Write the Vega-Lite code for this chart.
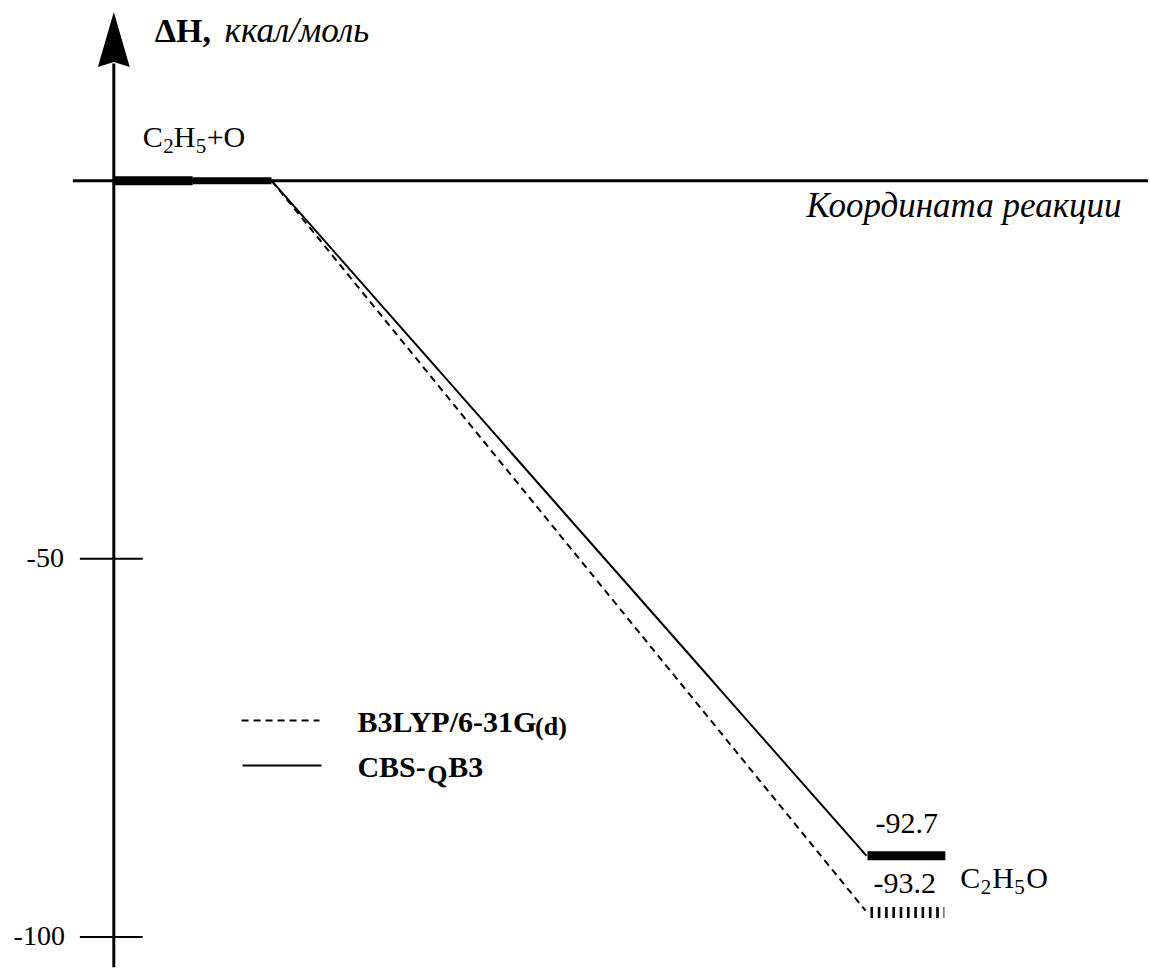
{
  "$schema": "https://vega.github.io/schema/vega-lite/v6.json",
  "width": 1150,
  "height": 969,
  "autosize": {"type": "fit", "contains": "padding"},
  "padding": 0,
  "background": "white",
  "config": {"view": {"stroke": null}, "text": {"font": "Liberation Serif, Times New Roman, serif", "color": "black"}},
  "encoding": {
    "x": {"field": "x", "type": "quantitative", "scale": {"domain": [0, 115], "nice": false, "zero": false}, "axis": null},
    "y": {"field": "y", "type": "quantitative", "scale": {"domain": [-103.96, 23.88], "nice": false, "zero": false}, "axis": null}
  },
  "layer": [
    {
      "data": {"values": [{"x": 11.4, "y": -104, "y2": 15.5}]},
      "mark": {"type": "rule", "color": "black", "strokeWidth": 3, "strokeCap": "butt"},
      "encoding": {"y2": {"field": "y2"}}
    },
    {
      "data": {"values": [{"x": 11.4, "y": 18.67}]},
      "mark": {"type": "point", "shape": "M0,-1L0.58,1L0,0.82L-0.58,1Z", "size": 3025, "filled": true, "color": "black", "opacity": 1, "strokeWidth": 0}
    },
    {
      "data": {"values": [{"x": 7.3, "x2": 115, "y": 0}]},
      "mark": {"type": "rule", "color": "black", "strokeWidth": 3, "strokeCap": "butt"},
      "encoding": {"x2": {"field": "x2"}}
    },
    {
      "data": {"values": [{"x": 8.0, "x2": 14.3, "y": -50}, {"x": 8.0, "x2": 14.3, "y": -100}]},
      "mark": {"type": "rule", "color": "black", "strokeWidth": 2, "strokeCap": "butt"},
      "encoding": {"x2": {"field": "x2"}}
    },
    {
      "data": {"values": [{"x": 6.4, "y": -50, "label": "-50"}, {"x": 6.5, "y": -100, "label": "-100"}]},
      "mark": {"type": "text", "font": "Liberation Serif, Times New Roman, serif", "align": "right", "baseline": "middle", "fontSize": 28},
      "encoding": {"text": {"field": "label"}}
    },
    {
      "data": {"values": [{"x": 11.5, "x2": 19.3, "y": 0}, {"x": 86.9, "x2": 94.7, "y": -89.25}]},
      "mark": {"type": "rule", "color": "black", "strokeWidth": 9, "strokeCap": "butt"},
      "encoding": {"x2": {"field": "x2"}}
    },
    {
      "data": {"values": [{"x": 19.3, "x2": 27.2, "y": 0}]},
      "mark": {"type": "rule", "color": "black", "strokeWidth": 7, "strokeCap": "butt"},
      "encoding": {"x2": {"field": "x2"}}
    },
    {
      "data": {"values": [{"x": 87.2, "x2": 94.6, "y": -96.77}]},
      "mark": {"type": "rule", "color": "black", "strokeWidth": 11, "strokeCap": "butt", "strokeDash": [2.6, 4.7]},
      "encoding": {"x2": {"field": "x2"}}
    },
    {
      "data": {"values": [
        {"method": "CBS-QB3", "x": 27.2, "y": 0},
        {"method": "CBS-QB3", "x": 86.8, "y": -89.25},
        {"method": "B3LYP/6-31G(d)", "x": 27.2, "y": 0},
        {"method": "B3LYP/6-31G(d)", "x": 86.7, "y": -96.5}
      ]},
      "mark": {"type": "line", "color": "black", "strokeWidth": 2},
      "encoding": {
        "strokeDash": {"field": "method", "type": "nominal", "scale": {"domain": ["CBS-QB3", "B3LYP/6-31G(d)"], "range": [[1, 0], [7, 5]]}, "legend": null}
      }
    },
    {
      "data": {"values": [
        {"method": "B3LYP/6-31G(d)", "x": 24.2, "x2": 32.0, "y": -71.37},
        {"method": "CBS-QB3", "x": 24.3, "x2": 32.2, "y": -77.31}
      ]},
      "mark": {"type": "rule", "color": "black", "strokeWidth": 2, "strokeCap": "butt"},
      "encoding": {
        "x2": {"field": "x2"},
        "strokeDash": {"field": "method", "type": "nominal", "scale": {"domain": ["CBS-QB3", "B3LYP/6-31G(d)"], "range": [[1, 0], [8, 5]]}, "legend": null}
      }
    },
    {
      "data": {"values": [
        {"x": 35.8, "y": -72.9, "label": "B3LYP/6-31G"},
        {"x": 35.8, "y": -78.9, "label": "CBS-"},
        {"x": 44.9, "y": -78.9, "label": "B3"}
      ]},
      "mark": {"type": "text", "font": "Liberation Serif, Times New Roman, serif", "align": "left", "baseline": "alphabetic", "fontSize": 30, "fontWeight": "bold"},
      "encoding": {"text": {"field": "label"}}
    },
    {
      "data": {"values": [
        {"x": 53.6, "y": -73.3, "label": "(d)"},
        {"x": 42.8, "y": -79.6, "label": "Q"}
      ]},
      "mark": {"type": "text", "font": "Liberation Serif, Times New Roman, serif", "align": "left", "baseline": "alphabetic", "fontSize": 26, "fontWeight": "bold"},
      "encoding": {"text": {"field": "label"}}
    },
    {
      "data": {"values": [
        {"x": 14.3, "y": 4.49, "label": "C"},
        {"x": 17.4, "y": 4.49, "label": "H"},
        {"x": 20.7, "y": 4.49, "label": "+O"},
        {"x": 96.2, "y": -93.54, "label": "C"},
        {"x": 99.4, "y": -93.54, "label": "H"},
        {"x": 102.8, "y": -93.54, "label": "O"},
        {"x": 87.7, "y": -86.28, "label": "-92.7"},
        {"x": 87.5, "y": -94.2, "label": "-93.2"}
      ]},
      "mark": {"type": "text", "font": "Liberation Serif, Times New Roman, serif", "align": "left", "baseline": "alphabetic", "fontSize": 30},
      "encoding": {"text": {"field": "label"}}
    },
    {
      "data": {"values": [
        {"x": 16.35, "y": 3.69, "label": "2"},
        {"x": 19.6, "y": 3.69, "label": "5"},
        {"x": 98.25, "y": -94.33, "label": "2"},
        {"x": 101.6, "y": -94.33, "label": "5"}
      ]},
      "mark": {"type": "text", "font": "Liberation Serif, Times New Roman, serif", "align": "left", "baseline": "alphabetic", "fontSize": 21},
      "encoding": {"text": {"field": "label"}}
    },
    {
      "data": {"values": [{"x": 15.5, "y": 18.34, "label": "ΔH,"}]},
      "mark": {"type": "text", "font": "Liberation Serif, Times New Roman, serif", "align": "left", "baseline": "alphabetic", "fontSize": 34, "fontWeight": "bold"},
      "encoding": {"text": {"field": "label"}}
    },
    {
      "data": {"values": [
        {"x": 22.5, "y": 18.34, "label": "ккал/моль"},
        {"x": 80.8, "y": -4.75, "label": "Координата реакции"}
      ]},
      "mark": {"type": "text", "font": "Liberation Serif, Times New Roman, serif", "align": "left", "baseline": "alphabetic", "fontSize": 35, "fontStyle": "italic"},
      "encoding": {"text": {"field": "label"}}
    }
  ]
}
